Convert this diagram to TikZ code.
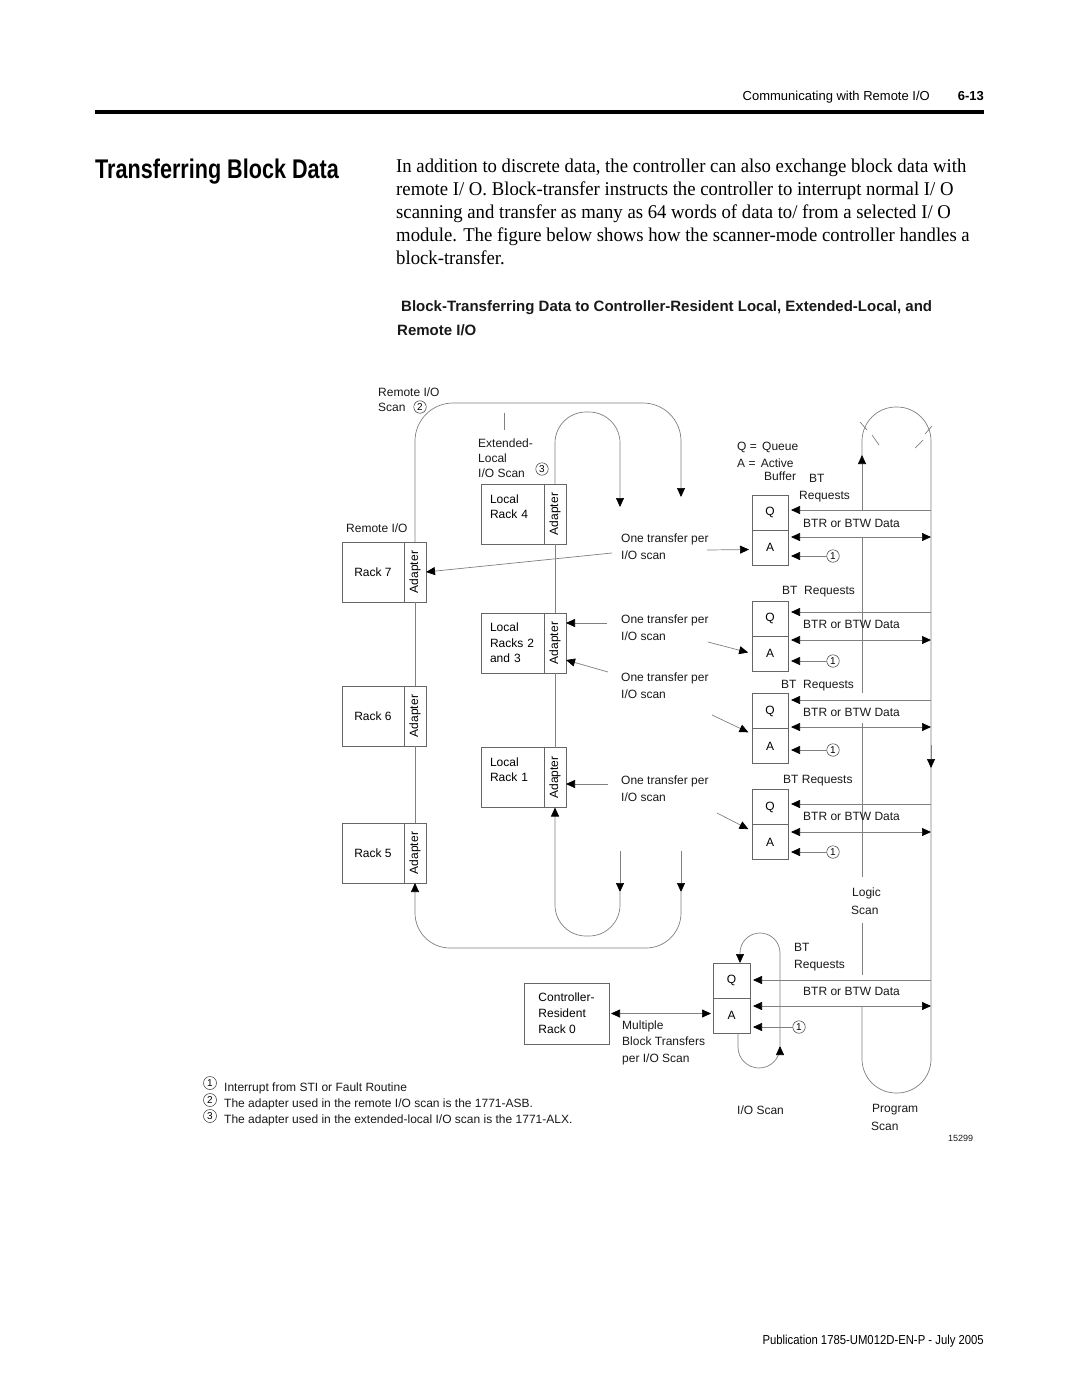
\documentclass[tikz,border=0pt]{standalone}
\usepackage{fontspec}
\setmainfont{Liberation Sans}
\newfontfamily\bodyfont{Liberation Serif}[FakeStretch=0.96]
\newfontfamily\condfont{Liberation Sans}[FakeStretch=0.8]
\newfontfamily\footfont{Liberation Sans}[FakeStretch=0.87]
\usepackage{graphicx}
\usetikzlibrary{arrows.meta, positioning}
\newcommand{\blkTip}{{Triangle[length=9pt,width=8pt,color=black]}}

\begin{document}
\begin{tikzpicture}[x=1pt, y=-1pt, font=\fontsize{12}{15}\selectfont,
	ln/.style={draw=black!50, line width=0.7pt},
	lbl/.style={anchor=base west, inner sep=0pt, align=left, text=black!90},
	rack/.style={draw=black!60, line width=0.7pt, minimum height=60pt, inner sep=0pt, outer sep=0pt, align=left},
	adapt/.style={draw=black!60, line width=0.7pt, minimum width=22pt, minimum height=60pt, inner sep=0pt, outer sep=0pt},
	qa/.style={draw=black!60, line width=0.7pt, minimum width=36pt, minimum height=35pt, inner sep=0pt, outer sep=0pt},
	num/.style={circle, draw=black!80, line width=0.5pt, inner sep=0pt, minimum size=12.5pt, font=\fontsize{10}{10}\selectfont}]
	\useasboundingbox (0,0) rectangle (1080,1397);

	% page header, title and text
	\node[anchor=base east, inner sep=0pt, font=\fontsize{13}{15}\selectfont] (hdr) at (930,100) {Communicating with Remote I/O};
	\node[anchor=base east, inner sep=0pt, font=\bfseries\fontsize{13}{15}\selectfont] (pg) at (984,100) {6-13};
	\fill[black]	(95,110) rectangle (984,114);
	\node[anchor=base west, inner sep=0pt, font=\condfont\bfseries\fontsize{27}{30}\selectfont] (title) at (95,178) {Transferring Block Data};
	% multi-line nodes sit on their last baseline
	\node[anchor=base west, inner sep=0pt, align=left, font=\bodyfont\fontsize{19.5}{23}\selectfont] (body) at (396,264)
		{In addition to discrete data, the controller can also exchange block data with\\
		remote I/ O. Block-transfer instructs the controller to interrupt normal I/ O\\
		scanning and transfer as many as 64 words of data to/ from a selected I/ O\\
		module. The figure below shows how the scanner-mode controller handles a\\
		block-transfer.};
	\node[lbl, font=\bfseries\fontsize{15}{24}\selectfont] (cap1) at (401,311) {Block-Transferring Data to Controller-Resident Local, Extended-Local, and};
	\node[lbl, font=\bfseries\fontsize{15}{24}\selectfont] (cap2) at (397,335) {Remote I/O};

	% remote racks
	\node[rack, minimum width=62pt, align=center] (r7) at (373,572) {Rack 7};
	\node[adapt, right=0pt of r7] (r7a) {\rotatebox{90}{Adapter}};
	\node[rack, minimum width=62pt, align=center] (r6) at (373,716) {Rack 6};
	\node[adapt, right=0pt of r6] (r6a) {\rotatebox{90}{Adapter}};
	\node[rack, minimum width=62pt, align=center] (r5) at (373,853) {Rack 5};
	\node[adapt, right=0pt of r5] (r5a) {\rotatebox{90}{Adapter}};

	% local racks
	\node[rack, text width=45pt, inner xsep=9pt] (lr4) at (512.5,514) {Local\\Rack 4\\\mbox{}};
	\node[adapt, right=0pt of lr4] (lr4a) {\rotatebox{90}{Adapter}};
	\node[rack, text width=45pt, inner xsep=9pt, font=\fontsize{12}{15.5}\selectfont] (lr23) at (512.5,643) {Local\\Racks 2\\and 3};
	\node[adapt, right=0pt of lr23] (lr23a) {\rotatebox{90}{Adapter}};
	\node[rack, text width=45pt, inner xsep=9pt] (lr1) at (512.5,777.5) {Local\\Rack 1\\\mbox{}};
	\node[adapt, right=0pt of lr1] (lr1a) {\rotatebox{90}{Adapter}};

	\node[rack, minimum width=85pt, minimum height=61pt, font=\fontsize{12}{16}\selectfont] (cr) at (566.5,1013.5) {Controller-\\Resident\\Rack 0};

	% scan labels
	\node[lbl] (rio1) at (378,396) {Remote I/O};
	\node[lbl] (rio2) at (378,411) {Scan};
	\node[num] (n2) at (420,407) {2};
	\node[lbl] (ext) at (478,477) {Extended-\\Local\\I/O Scan};
	\node[num] (n3) at (542,469) {3};
	\node[lbl] (rio3) at (346,532) {Remote I/O};

	% rack chains
	\draw[ln]	(r7a.south) -- (r6a.north);
	\draw[ln]	(r6a.south) -- (r5a.north);
	\draw[ln]	(lr4a.south) -- (lr23a.north);
	\draw[ln]	(lr23a.south) -- (lr1a.north);

	% remote and extended-local scan loops
	\draw[ln, rounded corners=38pt, -\blkTip]	(r7a.north) |- (681,403) -- (681,497);
	\draw[ln, rounded corners=31pt, -\blkTip]	(lr4a.north) |- (620,412) -- (620,507);
	\draw[ln]	(504,413) -- (504,430);
	\draw[ln, -\blkTip]	(681,851) -- (681,892);
	\draw[ln, -\blkTip]	(620,851) -- (620,892);
	\draw[ln, rounded corners=35pt, -\blkTip]	(681,892) |- (415,948) -- (r5a.south);
	\draw[ln, rounded corners=31pt, -\blkTip]	(620,892) |- (555,936) -- (lr1a.south);

	% one transfer per I/O scan
	\node[lbl, font=\fontsize{12}{17}\selectfont] (ot1) at (621,559) {One transfer per\\I/O scan};
	\node[lbl, font=\fontsize{12}{17}\selectfont] (ot2) at (621,640) {One transfer per\\I/O scan};
	\node[lbl, font=\fontsize{12}{17}\selectfont] (ot3) at (621,698) {One transfer per\\I/O scan};
	\node[lbl, font=\fontsize{12}{17}\selectfont] (ot4) at (621,801) {One transfer per\\I/O scan};

	% buffers
	\node[qa] (q1) at (770,512.5) {Q};
	\node[qa, below=0pt of q1] (a1) {A};
	\node[qa] (q2) at (770,618.5) {Q};
	\node[qa, below=0pt of q2] (a2) {A};
	\node[qa] (q3) at (770,711) {Q};
	\node[qa, below=0pt of q3] (a3) {A};
	\node[qa] (q4) at (770,807) {Q};
	\node[qa, below=0pt of q4] (a4) {A};
	\node[qa, minimum width=37pt] (q5) at (731.5,980.5) {Q};
	\node[qa, minimum width=37pt, below=0pt of q5] (a5) {A};

	\coordinate (ot1l) at (612,553);
	\coordinate (ot1r) at (707,550);
	\coordinate (ot2l) at (607,623);
	\coordinate (ot2r) at (708,642);
	\coordinate (ot3l) at (608,672);
	\coordinate (ot3r) at (712,715);
	\coordinate (ot4l) at (608,784);
	\coordinate (ot4r) at (717,813);
	\draw[ln, -\blkTip]	(ot1l) -- (r7a.east);
	\draw[ln, -\blkTip, shorten >=3pt]	(ot1r) -- ([yshift=-2pt]a1.west);
	\draw[ln, -\blkTip]	(ot2l) -- ([yshift=20pt]lr23a.east);
	\draw[ln, -\blkTip, shorten >=4pt]	(ot2r) -- (a2.west);
	\draw[ln, -\blkTip]	(ot3l) -- ([yshift=-17pt]lr23a.east);
	\draw[ln, -\blkTip, shorten >=4pt]	(ot3r) -- ([yshift=12pt]a3.west);
	\draw[ln, -\blkTip]	(ot4l) -- ([yshift=-6.5pt]lr1a.east);
	\draw[ln, -\blkTip, shorten >=4pt]	(ot4r) -- ([yshift=11pt]a4.west);

	% legend
	\node[lbl] (lgq) at (737,450) {Q = \,Queue};
	\node[lbl] (lga) at (737,467) {A = \,Active};
	\node[lbl] (lgb) at (764,480) {Buffer};

	% program scan
	\draw[ln, rounded corners=34pt]	(862,456) -- (862,407) -- (931,407) -- (931,1093) -- (862,1093) -- (862,1006);
	\draw[ln, -\blkTip]	(862,510) -- (862,455);
	\draw[ln, -\blkTip]	(931,745) -- (931,768);
	\draw[ln]	(862,537) -- (862,693);
	\draw[ln]	(862,723) -- (862,877);
	\draw[ln]	(862,923) -- (862,975);
	\draw[ln]	(860,422) -- (867,430);
	\draw[ln]	(872,435) -- (879,445);
	\draw[ln]	(915,448) -- (923,440);
	\draw[ln]	(925,434) -- (932,426);
	\node[lbl] (lg1) at (852,896) {Logic};
	\node[lbl] (lg2) at (851,914) {Scan};
	\node[lbl] (ps1) at (872,1112) {Program};
	\node[lbl] (ps2) at (871,1130) {Scan};

	% requests, data and interrupts
	\coordinate (bq1) at (931,510);
	\coordinate (bd1) at (931,537);
	\coordinate (bq2) at (931,612);
	\coordinate (bd2) at (931,640);
	\coordinate (bq3) at (931,700);
	\coordinate (bd3) at (931,727);
	\coordinate (bq4) at (931,804);
	\coordinate (bd4) at (931,832);
	\coordinate (bq5) at (931,980);
	\coordinate (bd5) at (931,1006);
	\node[num] (n1a) at (833,556) {1};
	\node[num] (n1b) at (833,661) {1};
	\node[num] (n1c) at (833,750) {1};
	\node[num] (n1d) at (833,852) {1};
	\node[num] (n1e) at (799,1027) {1};

	\node[lbl] (bt1) at (809,482) {BT};
	\node[lbl] (rq1) at (799,499) {Requests};
	\node[lbl] (dt1) at (803,527) {BTR or BTW Data};
	\node[lbl] (rq2) at (782,594) {BT~~Requests};
	\node[lbl] (dt2) at (803,628) {BTR or BTW Data};
	\node[lbl] (rq3) at (781,688) {BT~~Requests};
	\node[lbl] (dt3) at (803,716) {BTR or BTW Data};
	\node[lbl] (rq4) at (783,783) {BT Requests};
	\node[lbl] (dt4) at (803,820) {BTR or BTW Data};
	\node[lbl] (bt5) at (794,951) {BT};
	\node[lbl] (rq5) at (794,968) {Requests};
	\node[lbl] (dt5) at (803,995) {BTR or BTW Data};

	\draw[ln, -\blkTip, shorten >=3pt]	(bq1) -- (bq1 -| q1.east);
	\draw[ln, \blkTip-\blkTip, shorten <=3pt]	(bd1 -| a1.east) -- (bd1);
	\draw[ln, -\blkTip, shorten >=3pt]	(n1a.west) -- (n1a -| a1.east);
	\draw[ln, -\blkTip, shorten >=3pt]	(bq2) -- (bq2 -| q2.east);
	\draw[ln, \blkTip-\blkTip, shorten <=3pt]	(bd2 -| a2.east) -- (bd2);
	\draw[ln, -\blkTip, shorten >=3pt]	(n1b.west) -- (n1b -| a2.east);
	\draw[ln, -\blkTip, shorten >=3pt]	(bq3) -- (bq3 -| q3.east);
	\draw[ln, \blkTip-\blkTip, shorten <=3pt]	(bd3 -| a3.east) -- (bd3);
	\draw[ln, -\blkTip, shorten >=3pt]	(n1c.west) -- (n1c -| a3.east);
	\draw[ln, -\blkTip, shorten >=3pt]	(bq4) -- (bq4 -| q4.east);
	\draw[ln, \blkTip-\blkTip, shorten <=3pt]	(bd4 -| a4.east) -- (bd4);
	\draw[ln, -\blkTip, shorten >=3pt]	(n1d.west) -- (n1d -| a4.east);
	\draw[ln, -\blkTip, shorten >=3pt]	(bq5) -- (bq5 -| q5.east);
	\draw[ln, \blkTip-\blkTip, shorten <=3pt]	(bd5 -| a5.east) -- (bd5);
	\draw[ln, -\blkTip, shorten >=3pt]	(n1e.west) -- (n1e -| a5.east);

	% controller-resident rack and I/O scan
	\draw[ln, \blkTip-\blkTip, shorten <=2pt, shorten >=2pt]	(cr.east) -- (cr.east -| a5.west);
	\node[lbl, font=\fontsize{12}{16.5}\selectfont] (mbt) at (622,1062) {Multiple\\Block Transfers\\per I/O Scan};
	\draw[ln, rounded corners=21pt, -\blkTip]	([xshift=6.5pt]a5.south) |- (780,1068) -- (780,1046);
	\draw[ln, rounded corners=20pt, -\blkTip]	(780,1046) -- (780,933) -- (740,933) -- ([xshift=8.5pt]q5.north);
	\node[lbl] (ios) at (737,1114) {I/O Scan};
	\node[lbl, font=\fontsize{9}{10}\selectfont] (fig) at (948,1141) {15299};

	% notes
	\node[num, minimum size=13pt] (f1) at (210,1083) {1};
	\node[num, minimum size=13pt] (f2) at (210,1100) {2};
	\node[num, minimum size=13pt] (f3) at (210,1116) {3};
	\node[lbl] (ft1) at (224,1091) {Interrupt from STI or Fault Routine};
	\node[lbl] (ft2) at (224,1107) {The adapter used in the remote I/O scan is the 1771-ASB.};
	\node[lbl] (ft3) at (224,1123) {The adapter used in the extended-local I/O scan is the 1771-ALX.};

	% page footer
	\node[anchor=base east, inner sep=0pt, font=\footfont\fontsize{13}{15}\selectfont] (pub) at (984,1344) {Publication 1785-UM012D-EN-P - July 2005};
\end{tikzpicture}
\end{document}
